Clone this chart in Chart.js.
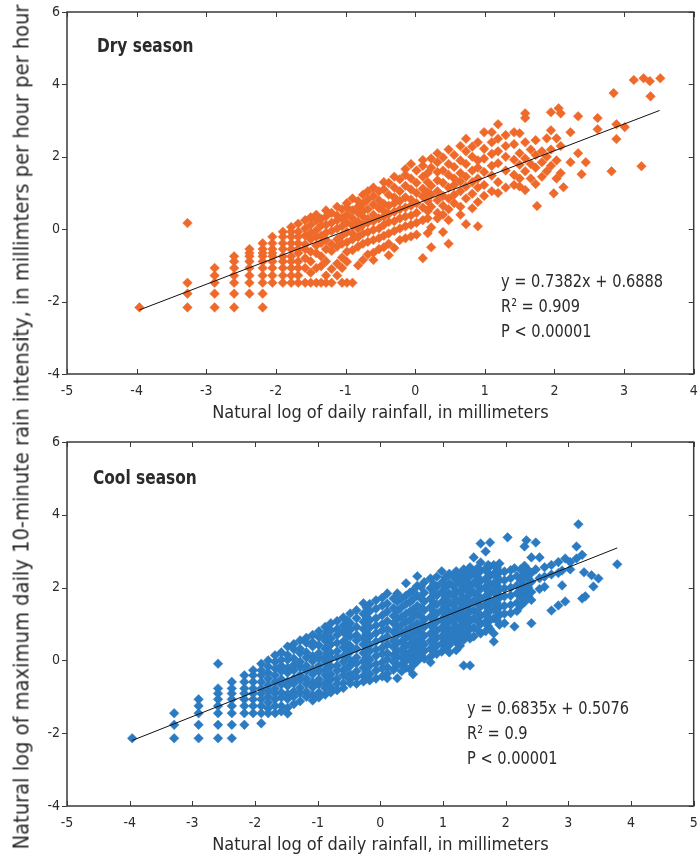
<!DOCTYPE html>
<html>
<head>
<meta charset="utf-8">
<script src="https://cdn.jsdelivr.net/npm/chart.js@4.4.1/dist/chart.umd.min.js"></script>
<style>
  body { margin: 0; background: #fff; }
  #wrap { position: relative; width: 699px; height: 862px; overflow: hidden; }
  canvas { position: absolute; left: 0; }
  #dry { top: 0; }
  #cool { top: 425px; }
  #ytitle {
    position: absolute; left: 21px; top: 427px;
    transform: translate(-50%, -50%) rotate(-90deg);
    white-space: nowrap; color: #2b2b2b;
    font: 21.7px 'Liberation Sans Narrow', 'DejaVu Sans Condensed', sans-serif;
  }
</style>
</head>
<body>
<div id="wrap">
  <canvas id="dry" width="699" height="425"></canvas>
  <canvas id="cool" width="699" height="437"></canvas>
  <div id="ytitle">Natural log of maximum daily 10-minute rain intensity, in millimters per hour per hour</div>
</div>
<script>
// dry season, points grouped by x column
const dryColX = [-3.96, -3.27, -2.88, -2.60, -2.38, -2.19, -2.05, -1.90, -1.78, -1.68,
  -1.58, -1.50, -1.42, -1.35, -1.28, -1.20, -1.12, -1.05, -0.98, -0.90,
  -0.82, -0.75, -0.68, -0.60, -0.52, -0.45, -0.38, -0.30, -0.22, -0.14,
  -0.06, 0.02, 0.11, 0.18, 0.23, 0.32, 0.40, 0.48, 0.56, 0.65,
  0.73, 0.82, 0.90, 0.99, 1.10, 1.19, 1.30, 1.42, 1.50, 1.58,
  1.66, 1.73, 1.75, 1.82, 1.89, 1.95, 1.99, 2.03, 2.06, 2.09,
  2.13, 2.23, 2.34, 2.39, 2.45, 2.62, 2.82, 2.85, 2.89, 3.01,
  3.14, 3.25, 3.28, 3.37, 3.38, 3.52];
const dryColY = [
  [-2.16],
  [0.17, -1.48, -1.78, -2.16],
  [-1.07, -1.28, -1.48, -1.78, -2.16],
  [-0.75, -0.89, -1.07, -1.28, -1.48, -1.78, -2.16],
  [-0.55, -0.66, -0.75, -0.89, -1.07, -1.28, -1.48, -1.78],
  [-0.39, -0.55, -0.66, -0.75, -0.89, -1.07, -1.28, -1.48, -1.78, -2.16],
  [-0.21, -0.39, -0.55, -0.66, -0.75, -0.89, -1.07, -1.28, -1.48],
  [-0.07, -0.21, -0.39, -0.55, -0.75, -0.89, -1.07, -1.28, -1.48],
  [0.06, -0.07, -0.21, -0.39, -0.55, -0.75, -0.89, -1.07, -1.28, -1.48],
  [0.15, -0.07, -0.21, -0.39, -0.55, -0.66, -0.89, -1.07, -1.28, -1.48],
  [0.25, 0.02, -0.18, -0.42, -0.55, -0.80, -1.07, -1.48],
  [0.33, 0.12, -0.10, -0.28, -0.62, -0.89, -1.20, -1.48],
  [0.40, 0.24, -0.03, -0.21, -0.45, -0.66, -1.07, -1.48],
  [0.28, 0.10, -0.18, -0.38, -0.75, -1.02, -1.48],
  [0.52, 0.35, 0.12, -0.10, -0.30, -0.55, -0.89, -1.28, -1.48],
  [0.45, 0.18, -0.05, -0.42, -0.60, -1.10, -1.48],
  [0.62, 0.38, 0.25, 0.02, -0.28, -0.48, -0.95, -1.28],
  [0.55, 0.30, 0.08, -0.18, -0.40, -0.78, -1.07, -1.48],
  [0.72, 0.60, 0.40, 0.18, -0.08, -0.36, -0.62, -0.90, -1.48],
  [0.85, 0.52, 0.30, 0.10, -0.12, -0.28, -0.58, -1.48],
  [0.78, 0.62, 0.45, 0.20, 0.02, -0.22, -0.48, -1.00],
  [0.95, 0.70, 0.50, 0.35, 0.12, -0.12, -0.40, -0.85],
  [1.05, 0.82, 0.55, 0.28, 0.18, -0.08, -0.35, -0.70],
  [1.15, 0.92, 0.68, 0.40, 0.22, -0.02, -0.30, -0.65, -0.85],
  [1.05, 0.80, 0.58, 0.30, 0.02, -0.25, -0.55],
  [1.30, 1.10, 0.70, 0.50, 0.35, 0.12, -0.18, -0.50],
  [1.28, 0.95, 0.65, 0.42, 0.20, -0.12, -0.40, -0.72],
  [1.45, 1.15, 0.88, 0.72, 0.48, 0.22, -0.05, -0.52],
  [1.38, 1.05, 0.78, 0.55, 0.30, 0.02, -0.30],
  [1.66, 1.50, 1.20, 0.88, 0.60, 0.35, 0.08, -0.25],
  [1.80, 1.40, 1.10, 0.82, 0.65, 0.38, 0.12, -0.20],
  [1.62, 1.28, 1.00, 0.72, 0.45, 0.18, -0.15],
  [1.91, 1.75, 1.45, 1.12, 0.90, 0.60, 0.25, -0.80],
  [1.55, 1.30, 1.02, 0.78, 0.50, 0.30, -0.11],
  [1.95, 1.70, 1.20, 0.95, 0.62, 0.05, -0.50],
  [2.10, 1.85, 1.58, 1.35, 1.05, 0.80, 0.45, 0.30],
  [1.98, 1.62, 1.28, 0.92, 0.65, 0.40, -0.08],
  [2.20, 1.80, 1.50, 1.15, 0.85, 0.55, 0.25, -0.40],
  [2.05, 1.72, 1.40, 1.22, 0.95, 0.72],
  [2.30, 1.90, 1.55, 1.32, 1.05, 0.62, 0.40],
  [2.50, 2.15, 1.80, 1.45, 1.18, 0.85, 0.14],
  [2.28, 2.00, 1.62, 1.30, 0.98, 0.58],
  [2.40, 1.90, 1.70, 1.40, 1.15, 0.75, 0.08],
  [2.68, 2.22, 1.95, 1.58, 1.22, 0.92],
  [2.68, 2.40, 2.08, 1.75, 1.48, 1.05],
  [2.90, 2.50, 2.15, 1.82, 1.30, 1.00],
  [2.60, 2.30, 2.00, 1.62, 1.15],
  [2.68, 2.35, 1.92, 1.50, 1.22],
  [2.65, 2.10, 1.78, 1.40, 1.18],
  [3.20, 3.07, 2.40, 1.95, 1.60, 1.08],
  [2.20, 1.80, 1.40],
  [2.46, 2.05, 1.70, 1.25],
  [0.64],
  [2.15, 1.85, 1.45],
  [2.51, 2.00, 1.60],
  [3.23, 2.73, 2.20, 1.75],
  [0.99],
  [2.51, 1.90, 1.40],
  [3.34],
  [3.20, 2.30, 1.55],
  [1.16],
  [2.68, 1.85],
  [3.12, 2.10],
  [1.52],
  [1.85],
  [3.07, 2.76],
  [1.60],
  [3.76],
  [2.90, 2.49],
  [2.82],
  [4.12],
  [1.74],
  [4.17],
  [4.09],
  [3.67],
  [4.17]
];
const dryFitX = [-3.96, 3.51];
const dryFitY = [-2.23, 3.28];
const dryNotes = ['y = 0.7382x + 0.6888', 'R\u00b2 = 0.909', 'P < 0.00001'];

// cool season (last columns fill in the dense core)
const coolColX = [-3.96, -3.29, -2.90, -2.59, -2.37, -2.17, -2.03, -1.90, -1.79, -1.68,
  -1.58, -1.48, -1.38, -1.28, -1.18, -1.08, -0.98, -0.88, -0.79, -0.69,
  -0.59, -0.48, -0.38, -0.27, -0.17, -0.07, 0.03, 0.11, 0.21, 0.27,
  0.41, 0.52, 0.59, 0.70, 0.80, 0.90, 0.98, 1.10, 1.21, 1.33,
  1.43, 1.49, 1.60, 1.68, 1.75, 1.81, 1.90, 1.98, 2.03, 2.08,
  2.14, 2.18, 2.30, 2.33, 2.41, 2.48, 2.54, 2.62, 2.73, 2.84,
  2.90, 2.95, 3.03, 3.13, 3.16, 3.22, 3.25, 3.27, 3.37, 3.40,
  3.48, 3.78,
  -0.84, -0.53, -0.22, 0.34, 0.47, 0.65, 0.85, 1.04, 1.16, 1.27,
  1.38, 1.55, 1.72, 1.86, 2.24, 2.36];
const coolColY = [
  [-2.14],
  [-1.45, -1.77, -2.14],
  [-1.07, -1.25, -1.45, -1.77, -2.14],
  [-0.09, -0.77, -0.91, -1.07, -1.25, -1.45, -1.77, -2.14],
  [-0.59, -0.77, -0.91, -1.07, -1.25, -1.45, -1.77, -2.14],
  [-0.41, -0.59, -0.77, -0.91, -1.07, -1.25, -1.45, -1.77],
  [-0.27, -0.41, -0.59, -0.77, -0.91, -1.07, -1.25, -1.45],
  [-0.09, -0.27, -0.41, -0.59, -0.77, -0.91, -1.07, -1.25, -1.45, -1.73],
  [0.00, -0.17, -0.34, -0.50, -0.68, -0.84, -1.00, -1.16, -1.32, -1.45],
  [0.14, -0.04, -0.22, -0.41, -0.59, -0.77, -0.91, -1.07, -1.25, -1.45],
  [0.22, 0.02, -0.15, -0.30, -0.52, -0.66, -0.88, -1.02, -1.25, -1.40],
  [0.38, 0.15, 0.02, -0.20, -0.34, -0.58, -0.70, -0.92, -1.06, -1.30, -1.46],
  [0.45, 0.30, 0.05, -0.12, -0.27, -0.50, -0.63, -0.85, -0.99, -1.20],
  [0.55, 0.32, 0.20, -0.04, -0.18, -0.40, -0.54, -0.75, -0.90, -1.12],
  [0.62, 0.48, 0.22, 0.08, -0.15, -0.28, -0.50, -0.64, -0.86, -1.00],
  [0.70, 0.50, 0.38, 0.12, -0.02, -0.25, -0.38, -0.60, -0.74, -0.95, -1.10],
  [0.80, 0.64, 0.42, 0.20, 0.06, -0.15, -0.30, -0.52, -0.66, -0.88, -1.02],
  [0.92, 0.70, 0.55, 0.32, 0.10, -0.04, -0.26, -0.40, -0.62, -0.76, -0.94],
  [1.02, 0.82, 0.60, 0.44, 0.21, 0.05, -0.16, -0.38, -0.52, -0.74, -0.88],
  [1.08, 0.86, 0.70, 0.48, 0.25, 0.09, -0.14, -0.28, -0.50, -0.64, -0.82],
  [1.18, 0.96, 0.78, 0.52, 0.36, 0.12, -0.04, -0.26, -0.40, -0.62, -0.76],
  [1.29, 1.02, 0.84, 0.66, 0.40, 0.24, 0.00, -0.15, -0.38, -0.52, -0.63],
  [1.38, 1.16, 0.92, 0.70, 0.55, 0.32, 0.08, -0.08, -0.30, -0.46, -0.64],
  [1.57, 1.28, 1.06, 0.86, 0.62, 0.44, 0.20, -0.02, -0.20, -0.42, -0.58],
  [1.55, 1.35, 1.10, 0.90, 0.66, 0.42, 0.25, 0.02, -0.15, -0.38, -0.55],
  [1.65, 1.42, 1.16, 0.96, 0.75, 0.52, 0.30, 0.12, -0.10, -0.28, -0.50],
  [1.72, 1.50, 1.24, 1.00, 0.82, 0.58, 0.35, 0.18, -0.05, -0.22, -0.44],
  [1.84, 1.56, 1.34, 1.08, 0.86, 0.66, 0.44, 0.20, 0.04, -0.18, -0.36, -0.49],
  [1.70, 1.44, 1.22, 1.02, 0.78, 0.54, 0.36, 0.14, -0.04, -0.26],
  [1.84, 1.62, 1.36, 1.14, 0.90, 0.70, 0.48, 0.25, 0.08, -0.14, -0.49],
  [2.12, 1.78, 1.55, 1.28, 1.06, 0.82, 0.62, 0.40, 0.18, 0.00, -0.20],
  [1.92, 1.68, 1.40, 1.18, 0.92, 0.72, 0.48, 0.30, 0.08, -0.14, -0.38],
  [2.31, 2.05, 1.78, 1.50, 1.28, 1.02, 0.82, 0.58, 0.36, 0.18, -0.02],
  [2.15, 1.86, 1.62, 1.38, 1.12, 0.92, 0.68, 0.44, 0.26, 0.05],
  [2.25, 1.98, 1.70, 1.46, 1.20, 0.98, 0.74, 0.54, 0.32, 0.10, -0.05],
  [2.30, 2.02, 1.78, 1.54, 1.28, 1.06, 0.82, 0.62, 0.40, 0.18],
  [2.45, 2.14, 1.88, 1.60, 1.38, 1.12, 0.90, 0.66, 0.46, 0.24],
  [2.38, 2.12, 1.84, 1.60, 1.34, 1.12, 0.86, 0.66, 0.42, 0.22],
  [2.45, 2.22, 1.92, 1.68, 1.42, 1.20, 0.94, 0.74, 0.50, 0.28],
  [2.50, 2.26, 2.00, 1.72, 1.50, 1.24, 1.02, 0.76, 0.56, -0.14],
  [2.56, 2.32, 2.04, 1.82, 1.56, 1.34, 1.08, 0.86, 0.60, -0.14],
  [2.83, 2.40, 2.14, 1.88, 1.64, 1.38, 1.16, 0.90, 0.66],
  [3.21, 2.69, 2.46, 2.18, 1.96, 1.70, 1.48, 1.22, 1.00, 0.74],
  [2.99, 2.52, 2.24, 2.02, 1.76, 1.54, 1.28, 1.06, 0.80],
  [3.24, 2.58, 2.32, 2.06, 1.84, 1.58, 1.36, 1.10, 0.86],
  [2.62, 2.38, 2.12, 1.90, 1.64, 1.42, 1.16, 0.74, 0.52],
  [2.66, 2.42, 2.20, 1.94, 1.72, 1.46, 1.24, 0.98],
  [2.44, 2.20, 1.98, 1.76, 1.50, 1.28, 1.02],
  [3.38],
  [2.48, 2.26, 2.00, 1.78, 1.52, 1.30],
  [2.53, 0.93],
  [2.32, 2.06, 1.84, 1.58, 1.36],
  [3.13, 2.60, 2.36, 2.08, 1.86, 1.60],
  [3.30],
  [2.83, 2.40, 2.16, 1.88, 1.66, 1.02],
  [3.24, 2.50],
  [2.83, 2.26, 1.96],
  [2.56, 2.30, 2.02],
  [2.62, 2.36, 1.37],
  [2.70, 2.40, 1.51],
  [2.47, 2.06],
  [2.80, 1.62],
  [2.70, 2.50],
  [3.13, 2.80],
  [3.74],
  [1.70, 2.90],
  [2.42],
  [1.76],
  [2.34],
  [2.03],
  [2.25],
  [2.64],
  [0.82, 0.62, 0.40, 0.20, -0.02, -0.20, -0.48, -0.70],
  [1.10, 0.90, 0.68, 0.46, 0.28, 0.06, -0.20, -0.44],
  [1.45, 1.20, 0.96, 0.74, 0.52, 0.30, 0.08, -0.12, -0.32, -0.50],
  [1.70, 1.46, 1.20, 0.98, 0.76, 0.52, 0.30, 0.10, -0.10, -0.30],
  [1.86, 1.60, 1.34, 1.10, 0.88, 0.66, 0.44, 0.22, 0.02, -0.24],
  [2.02, 1.70, 1.44, 1.20, 0.96, 0.74, 0.52, 0.30, 0.12],
  [2.10, 1.84, 1.58, 1.34, 1.12, 0.88, 0.66, 0.44, 0.24],
  [2.28, 2.00, 1.74, 1.48, 1.24, 1.00, 0.78, 0.56, 0.34],
  [2.30, 2.04, 1.78, 1.52, 1.28, 1.04, 0.80, 0.58],
  [2.36, 2.10, 1.86, 1.60, 1.36, 1.12, 0.88, 0.64, 0.40],
  [2.42, 2.16, 1.92, 1.66, 1.42, 1.18, 0.94, 0.72],
  [2.54, 2.30, 2.06, 1.80, 1.56, 1.32, 1.08, 0.84],
  [2.62, 2.40, 2.14, 1.90, 1.66, 1.42, 1.18, 0.94],
  [2.54, 2.30, 2.06, 1.82, 1.58, 1.34, 1.10],
  [2.50, 2.22, 1.98, 1.74, 1.50],
  [2.48, 2.24, 2.00, 1.76]
];
const coolFitX = [-3.96, 3.78];
const coolFitY = [-2.20, 3.09];
const coolNotes = ['y = 0.6835x + 0.5076', 'R\u00b2 = 0.9', 'P < 0.00001'];

const yTicks = [-4, -2, 0, 2, 4, 6];
const dryXTicks = [-5, -4, -3, -2, -1, 0, 1, 2, 3, 4];
const coolXTicks = [-5, -4, -3, -2, -1, 0, 1, 2, 3, 4, 5];

const FONT = "'Liberation Sans Narrow', 'DejaVu Sans Condensed', sans-serif";
const INK = '#2b2b2b';

function toPoints(cx, cy) {
  const pts = [];
  cx.forEach((x, i) => cy[i].forEach(y => pts.push({ x: x, y: y })));
  return pts;
}

function narrowText(ctx, s, x, y) {
  ctx.save();
  ctx.translate(x, y);
  ctx.scale(0.9, 1);
  ctx.fillText(s, 0, 0);
  ctx.restore();
}

// box with inward ticks (outward on the left), plus panel texts
const framePlugin = {
  id: 'frame',
  afterDraw(chart, args, opts) {
    const { ctx, chartArea: a, scales } = chart;
    ctx.save();
    ctx.strokeStyle = '#3a3a3a';
    ctx.lineWidth = 1.5;
    ctx.strokeRect(a.left, a.top, a.right - a.left, a.bottom - a.top);
    ctx.lineWidth = 1;
    ctx.beginPath();
    scales.x.ticks.forEach(t => {
      const px = Math.round(scales.x.getPixelForValue(t.value)) + 0.5;
      ctx.moveTo(px, a.bottom); ctx.lineTo(px, a.bottom - 5);
      ctx.moveTo(px, a.top); ctx.lineTo(px, a.top + 5);
    });
    scales.y.ticks.forEach(t => {
      const py = Math.round(scales.y.getPixelForValue(t.value)) + 0.5;
      ctx.moveTo(a.left, py); ctx.lineTo(a.left - 5, py);
      ctx.moveTo(a.right, py); ctx.lineTo(a.right - 5, py);
    });
    ctx.stroke();

    ctx.fillStyle = INK;
    ctx.textBaseline = 'alphabetic';
    ctx.font = 'bold 19px ' + FONT;
    narrowText(ctx, opts.label, opts.labelX, opts.labelY);
    ctx.font = '18px ' + FONT;
    opts.notes.forEach((s, i) => narrowText(ctx, s, opts.notesX, opts.notesY + i * 25));
    ctx.restore();
  }
};

function makePanel(id, cx, cy, fitX, fitY, xTicks, xMax, color, pad, axisH, titlePad, textOpts) {
  const fit = fitX.map((x, i) => ({ x: x, y: fitY[i] }));
  return new Chart(document.getElementById(id), {
    type: 'scatter',
    data: {
      datasets: [
        {
          data: fit, showLine: true, borderColor: '#111', borderWidth: 1,
          pointRadius: 0, pointHoverRadius: 0
        },
        {
          data: toPoints(cx, cy), pointStyle: 'rectRot', pointRadius: 4.8,
          backgroundColor: color, borderColor: color, borderWidth: 0.5
        }
      ]
    },
    options: {
      responsive: false,
      animation: false,
      events: [],
      layout: { padding: pad },
      plugins: { legend: { display: false }, tooltip: { enabled: false }, frame: textOpts },
      scales: {
        x: {
          type: 'linear', min: -5, max: xMax,
          grid: { display: false, drawTicks: false },
          border: { display: false },
          afterBuildTicks: s => { s.ticks = xTicks.map(v => ({ value: v })); },
          afterFit: s => { s.height = axisH; s.paddingLeft = 0; s.paddingRight = 0; },
          ticks: { color: INK, padding: 9, font: { family: FONT, size: 14 } },
          title: {
            display: true, text: 'Natural log of daily rainfall, in millimeters',
            color: INK, font: { family: FONT, size: 18 }, padding: { top: 0, bottom: titlePad }
          }
        },
        y: {
          type: 'linear', min: -4, max: 6,
          grid: { display: false, drawTicks: false },
          border: { display: false },
          afterBuildTicks: s => { s.ticks = yTicks.map(v => ({ value: v })); },
          afterFit: s => { s.width = 67; s.paddingTop = 0; s.paddingBottom = 0; },
          ticks: { color: INK, padding: 7, font: { family: FONT, size: 14 } }
        }
      }
    },
    plugins: [framePlugin]
  });
}

makePanel('dry', dryColX, dryColY, dryFitX, dryFitY, dryXTicks, 4, '#EF6A2A',
  { top: 12, right: 3, left: 0, bottom: 0 }, 51, 1,
  { label: 'Dry season', labelX: 97, labelY: 52, notes: dryNotes, notesX: 501, notesY: 287 });

makePanel('cool', coolColX, coolColY, coolFitX, coolFitY, coolXTicks, 5, '#2B7BC2',
  { top: 17, right: 2, left: 0, bottom: 0 }, 56, 6,
  { label: 'Cool season', labelX: 93, labelY: 59, notes: coolNotes, notesX: 467, notesY: 289 });
</script>
</body>
</html>
